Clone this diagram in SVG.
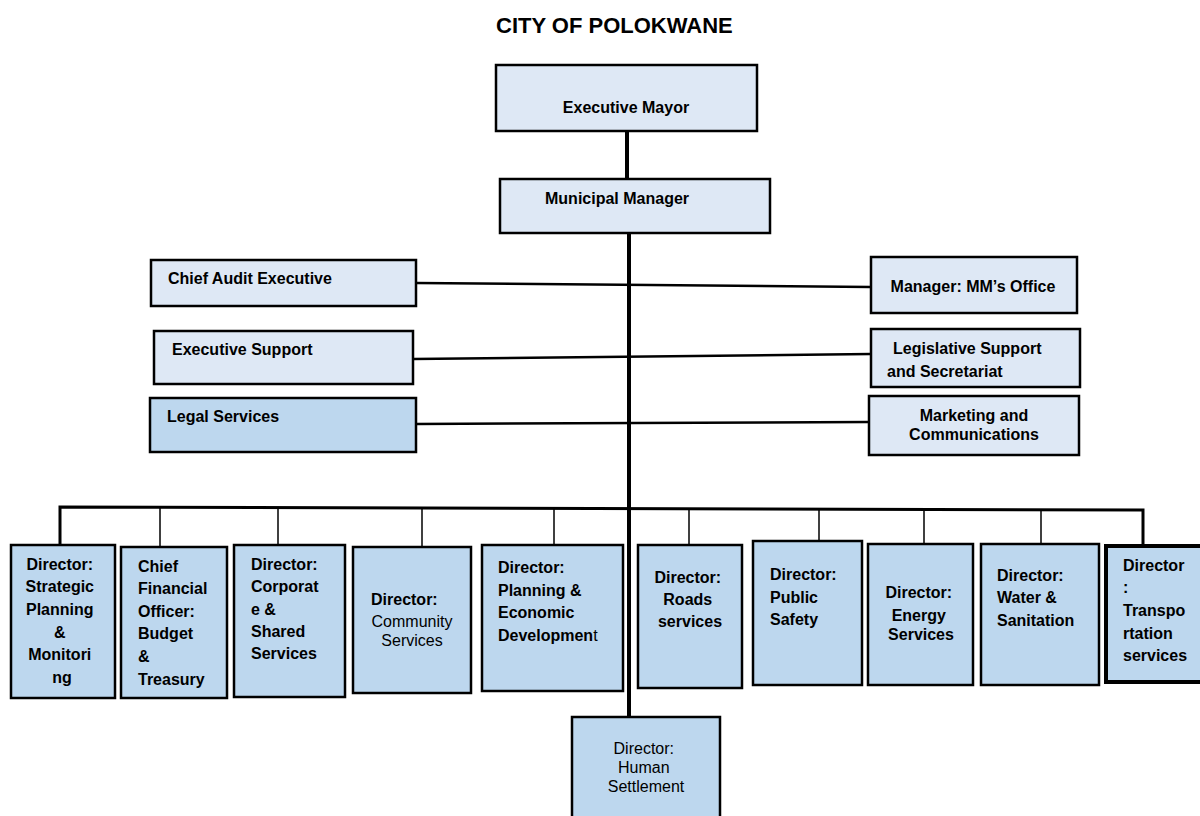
<svg xmlns="http://www.w3.org/2000/svg" width="1200" height="816" viewBox="0 0 1200 816">
  <style>
    .box { stroke: #000; stroke-width: 2.5; }
    .light { fill: #dee8f5; }
    .dark { fill: #bdd7ee; }
    .heavy { stroke-width: 4; }
    text { font-family: "Liberation Sans", Arial, sans-serif; font-size: 16px; fill: #000; }
    .b { font-weight: bold; }
    .n { font-weight: normal; }
    .c { text-anchor: middle; }
    .title { font-size: 22px; font-weight: bold; }
    .link { stroke: #000; fill: none; }
  </style>
  <rect width="1200" height="816" fill="#fff"/>

  <text class="title" x="496" y="33">CITY OF POLOKWANE</text>

  <!-- connectors -->
  <g id="connectors" class="link">
    <line x1="627" y1="131" x2="627" y2="179" stroke-width="4"/>
    <line x1="629" y1="233" x2="629" y2="717" stroke-width="4"/>
    <line x1="416" y1="283" x2="871" y2="287" stroke-width="2.5"/>
    <line x1="413" y1="359" x2="871" y2="354" stroke-width="2.5"/>
    <line x1="416" y1="424" x2="869" y2="422" stroke-width="2.5"/>
    <polyline points="60,544 60,507 1143,510 1143,545" stroke-width="3"/>
    <line x1="160" y1="508" x2="160" y2="547" stroke-width="1.5"/>
    <line x1="278" y1="508" x2="278" y2="545" stroke-width="1.5"/>
    <line x1="422" y1="508" x2="422" y2="547" stroke-width="1.5"/>
    <line x1="554" y1="508" x2="554" y2="545" stroke-width="1.5"/>
    <line x1="689" y1="509" x2="689" y2="545" stroke-width="1.5"/>
    <line x1="819" y1="509" x2="819" y2="541" stroke-width="1.5"/>
    <line x1="924" y1="509" x2="924" y2="544" stroke-width="1.5"/>
    <line x1="1041" y1="510" x2="1041" y2="544" stroke-width="1.5"/>
  </g>

  <g id="executive-mayor">
    <rect class="box light" x="496" y="65" width="261" height="66"/>
    <text class="b c" x="626" y="113">Executive Mayor</text>
  </g>

  <g id="municipal-manager">
    <rect class="box light" x="500" y="179" width="270" height="54"/>
    <text class="b" x="545" y="204">Municipal Manager</text>
  </g>

  <g id="chief-audit-executive">
    <rect class="box light" x="151" y="260" width="265" height="46"/>
    <text class="b" x="168" y="284">Chief Audit Executive</text>
  </g>

  <g id="executive-support">
    <rect class="box light" x="154" y="331" width="259" height="53"/>
    <text class="b" x="172" y="355">Executive Support</text>
  </g>

  <g id="legal-services">
    <rect class="box dark" x="150" y="398" width="266" height="54"/>
    <text class="b" x="167" y="422">Legal Services</text>
  </g>

  <g id="mm-office">
    <rect class="box light" x="871" y="257" width="206" height="56"/>
    <text class="b c" x="973" y="292">Manager: MM’s Office</text>
  </g>

  <g id="legislative-support">
    <rect class="box light" x="871" y="329" width="209" height="58"/>
    <text class="b" x="893" y="354">Legislative Support</text>
    <text class="b" x="887" y="377">and Secretariat</text>
  </g>

  <g id="marketing">
    <rect class="box light" x="869" y="396" width="210" height="59"/>
    <text class="b c" x="974" y="421">Marketing and</text>
    <text class="b c" x="974" y="440">Communications</text>
  </g>

  <g id="strategic-planning">
    <rect class="box dark" x="11" y="545" width="104" height="153"/>
    <text class="b c" x="62">
      <tspan x="62" y="570">Director:</tspan>
      <tspan x="62" y="592">Strategic</tspan>
      <tspan x="62" y="615">Planning</tspan>
      <tspan x="62" y="638">&amp;</tspan>
      <tspan x="62" y="660">Monitori</tspan>
      <tspan x="62" y="683">ng</tspan>
    </text>
  </g>

  <g id="cfo">
    <rect class="box dark" x="121" y="547" width="106" height="151"/>
    <text class="b">
      <tspan x="138" y="572">Chief</tspan>
      <tspan x="138" y="594">Financial</tspan>
      <tspan x="138" y="617">Officer:</tspan>
      <tspan x="138" y="639">Budget</tspan>
      <tspan x="138" y="662">&amp;</tspan>
      <tspan x="138" y="685">Treasury</tspan>
    </text>
  </g>

  <g id="corporate-services">
    <rect class="box dark" x="234" y="545" width="111" height="152"/>
    <text class="b">
      <tspan x="251" y="570">Director:</tspan>
      <tspan x="251" y="592">Corporat</tspan>
      <tspan x="251" y="615">e &amp;</tspan>
      <tspan x="251" y="637">Shared</tspan>
      <tspan x="251" y="659">Services</tspan>
    </text>
  </g>

  <g id="community-services">
    <rect class="box dark" x="353" y="547" width="118" height="146"/>
    <text class="b" x="371" y="605">Director:</text>
    <text class="n c" x="412" y="627">Community</text>
    <text class="n c" x="412" y="646">Services</text>
  </g>

  <g id="planning-economic">
    <rect class="box dark" x="482" y="545" width="141" height="146"/>
    <text class="b">
      <tspan x="498" y="573">Director:</tspan>
      <tspan x="498" y="596">Planning &amp;</tspan>
      <tspan x="498" y="618">Economic</tspan>
      <tspan x="498" y="641">Developmen<tspan class="n">t</tspan></tspan>
    </text>
  </g>

  <g id="roads">
    <rect class="box dark" x="638" y="545" width="104" height="143"/>
    <text class="b c">
      <tspan x="690" y="583">Director:</tspan>
      <tspan x="690" y="605">Roads</tspan>
      <tspan x="690" y="627">services</tspan>
    </text>
  </g>

  <g id="public-safety">
    <rect class="box dark" x="753" y="541" width="109" height="144"/>
    <text class="b">
      <tspan x="770" y="580">Director:</tspan>
      <tspan x="770" y="603">Public</tspan>
      <tspan x="770" y="625">Safety</tspan>
    </text>
  </g>

  <g id="energy">
    <rect class="box dark" x="868" y="544" width="105" height="141"/>
    <text class="b c">
      <tspan x="921" y="598">Director:</tspan>
      <tspan x="921" y="621">Energy</tspan>
      <tspan x="921" y="640">Services</tspan>
    </text>
  </g>

  <g id="water-sanitation">
    <rect class="box dark" x="981" y="544" width="118" height="141"/>
    <text class="b">
      <tspan x="997" y="581">Director:</tspan>
      <tspan x="997" y="603">Water &amp;</tspan>
      <tspan x="997" y="626">Sanitation</tspan>
    </text>
  </g>

  <g id="transportation">
    <rect class="box dark heavy" x="1106" y="546" width="100" height="136"/>
    <text class="b">
      <tspan x="1123" y="571">Director</tspan>
      <tspan x="1123" y="593">:</tspan>
      <tspan x="1123" y="616">Transpo</tspan>
      <tspan x="1123" y="639">rtation</tspan>
      <tspan x="1123" y="661">services</tspan>
    </text>
  </g>

  <g id="human-settlement">
    <rect class="box dark" x="572" y="717" width="148" height="110"/>
    <text class="n c">
      <tspan x="646" y="754">Director:</tspan>
      <tspan x="646" y="773">Human</tspan>
      <tspan x="646" y="792">Settlement</tspan>
    </text>
  </g>
</svg>
